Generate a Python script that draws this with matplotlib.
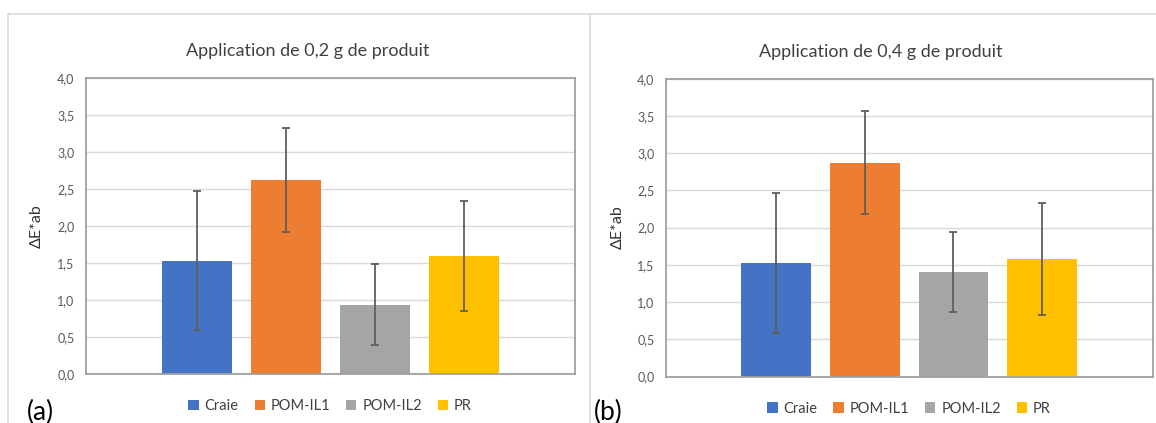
import matplotlib.pyplot as plt
from matplotlib.lines import Line2D

# Data
series = ['Craie', 'POM-IL1', 'POM-IL2', 'PR']
colors = ['#4472C4', '#ED7D31', '#A5A5A5', '#FFC000']

mean_02 = [1.53, 2.62, 0.94, 1.59]
err_02 = [0.94, 0.70, 0.54, 0.74]

mean_04 = [1.53, 2.87, 1.40, 1.58]
err_04 = [0.94, 0.69, 0.54, 0.75]

y_ticks = [0.0, 0.5, 1.0, 1.5, 2.0, 2.5, 3.0, 3.5, 4.0]
y_tick_labels = ['0,0', '0,5', '1,0', '1,5', '2,0', '2,5', '3,0', '3,5', '4,0']

plt.rcParams['font.family'] = ['Lato', 'DejaVu Sans']

W, H = 1156, 423
fig = plt.figure(figsize=(W / 100, H / 100), dpi=100)


def px_rect(x0, y0, x1, y1):
    # pixel box (top-left origin) -> figure fraction [left, bottom, width, height]
    return [x0 / W, 1 - y1 / H, (x1 - x0) / W, (y1 - y0) / H]


def draw_panel(box, means, errs, title, title_xy, tag, tag_x):
    ax = fig.add_axes(px_rect(*box))
    x = range(len(series))
    for i in x:
        ax.bar(i, means[i], width=0.786, color=colors[i], label=series[i], zorder=2)
        ax.errorbar(i, means[i], yerr=errs[i], color='#5f5f5f', lw=1.3,
                    capsize=3, capthick=1.3, zorder=3)
    ax.set_xlim(-1.245, 4.245)
    ax.set_ylim(0, 4)
    ax.set_yticks(y_ticks)
    ax.set_yticklabels(y_tick_labels)
    ax.set_xticks([])
    ax.tick_params(axis='y', length=0, pad=8, labelsize=9, labelcolor='#595959')
    ax.yaxis.grid(True, color='#d9d9d9', lw=1, zorder=0)
    ax.set_axisbelow(True)
    for s in ax.spines.values():
        s.set_color('#a0a0a0')
        s.set_linewidth(1.3)
    ax.set_ylabel('ΔE*ab', fontsize=11.5, color='#333333')
    ax.yaxis.set_label_coords(-0.085, 0.5)
    ax.legend(loc='upper center', bbox_to_anchor=(0.5, -0.04), ncol=4,
              frameon=False, fontsize=10.5, handlelength=0.7, handleheight=0.7,
              handletextpad=0.4, columnspacing=1.1, labelcolor='#404040')
    fig.text(title_xy[0] / W, 1 - title_xy[1] / H, title, ha='center',
             va='center', fontsize=13, color='#404040')
    fig.text(tag_x / W, 3 / H, tag, ha='left', va='baseline', fontsize=19,
             color='black')
    return ax


# light panel frames
frame = dict(color='#d9d9d9', lw=1.2, transform=fig.transFigure)
fig.add_artist(Line2D([8 / W, 8 / W], [0, 1 - 13.7 / H], **frame))
fig.add_artist(Line2D([8 / W, 1], [1 - 13.7 / H, 1 - 13.7 / H], **frame))
fig.add_artist(Line2D([590.3 / W, 590.3 / W], [0, 1 - 13.7 / H], **frame))

draw_panel((85.7, 77.7, 574.7, 374.2), mean_02, err_02,
           'Application de 0,2 g de produit', (307.5, 51), '(a)', 27)
draw_panel((665.7, 78.7, 1152.5, 376.5), mean_04, err_04,
           'Application de 0,4 g de produit', (881, 52), '(b)', 594)

fig.savefig('out.png', dpi=100, facecolor='white')
